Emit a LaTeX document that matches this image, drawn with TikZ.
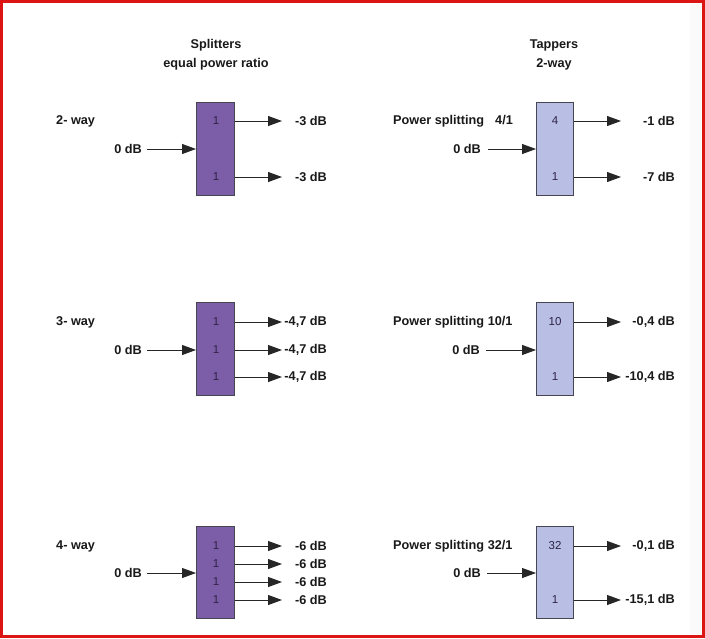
\documentclass[tikz,border=0pt]{standalone}
\usepackage{fontspec}
\setmainfont{Liberation Sans}
\usetikzlibrary{arrows.meta}
\definecolor{splitfill}{RGB}{124,94,168}
\definecolor{tapfill}{RGB}{184,190,228}
\definecolor{frame}{RGB}{220,20,20}
\definecolor{edge}{RGB}{70,70,80}
\definecolor{numtxt}{RGB}{45,35,70}
\tikzset{
  splitbox/.style={draw=edge, line width=0.8pt, fill=splitfill, minimum width=38pt, minimum height=93pt, inner sep=0pt, anchor=north west},
  tapbox/.style={draw=edge, line width=0.8pt, fill=tapfill, minimum width=37pt, minimum height=93pt, inner sep=0pt, anchor=north west},
  lbl/.style={font=\fontsize{12.7}{15}\selectfont\bfseries, inner sep=0pt, text=black!90},
  num/.style={font=\fontsize{11.5}{13}\selectfont, inner sep=0pt, text=numtxt},
  conn/.style={draw=black!85, line width=0.9pt, -{Triangle[length=14pt,width=10pt]}},
}
\begin{document}
\begin{tikzpicture}[x=1pt,y=-1pt]
\useasboundingbox (0,0) rectangle (705,638);
\fill[white] (0,0) rectangle (705,638);
\fill[black!2] (690,4) rectangle (701,634);
\draw[frame, line width=3pt] (1.5,1.5) rectangle (703.5,636.5);

% titles
\node[lbl] (t1) at (216,45) {Splitters};
\node[lbl] (t2) at (216,64) {equal power ratio};
\node[lbl] (t3) at (554,45) {Tappers};
\node[lbl] (t4) at (554,64) {2-way};

% ===== Row 1 =====
\node[splitbox] (s1) at (196,102) {};
\node[num] (s1a) at (216,121) {1};
\node[num] (s1b) at (216,177) {1};
\node[lbl, anchor=west] (w1) at (56,121) {2- way};
\node[lbl, anchor=east] (i1) at (142,149) {0 dB};
\coordinate (i1s) at (147,149);
\draw[conn] (i1s) -- (s1.west |- i1s);
\coordinate (s1o1) at (282,121);
\coordinate (s1o2) at (282,177);
\draw[conn] (s1.east |- s1o1) -- (s1o1);
\draw[conn] (s1.east |- s1o2) -- (s1o2);
\node[lbl, anchor=east] (s1l1) at (327,121) {-3 dB};
\node[lbl, anchor=east] (s1l2) at (327,177) {-3 dB};

\node[tapbox] (p1) at (536,102) {};
\node[num] (p1a) at (555,121) {4};
\node[num] (p1b) at (555,177) {1};
\node[lbl, anchor=west] (q1) at (393,121) {Power splitting\hspace{11pt}4/1};
\node[lbl, anchor=east] (j1) at (481,149) {0 dB};
\coordinate (j1s) at (488,149);
\draw[conn] (j1s) -- (p1.west |- j1s);
\coordinate (p1o1) at (621,121);
\coordinate (p1o2) at (621,177);
\draw[conn] (p1.east |- p1o1) -- (p1o1);
\draw[conn] (p1.east |- p1o2) -- (p1o2);
\node[lbl, anchor=east] (p1l1) at (675,121) {-1 dB};
\node[lbl, anchor=east] (p1l2) at (675,177) {-7 dB};

% ===== Row 2 =====
\node[splitbox] (s2) at (196,302) {};
\node[num] (s2a) at (216,322) {1};
\node[num] (s2b) at (216,350) {1};
\node[num] (s2c) at (216,377) {1};
\node[lbl, anchor=west] (w2) at (56,322) {3- way};
\node[lbl, anchor=east] (i2) at (142,350) {0 dB};
\coordinate (i2s) at (147,350);
\draw[conn] (i2s) -- (s2.west |- i2s);
\coordinate (s2o1) at (282,322);
\coordinate (s2o2) at (282,350);
\coordinate (s2o3) at (282,377);
\draw[conn] (s2.east |- s2o1) -- (s2o1);
\draw[conn] (s2.east |- s2o2) -- (s2o2);
\draw[conn] (s2.east |- s2o3) -- (s2o3);
\node[lbl, anchor=east] (s2l1) at (327,322) {-4,7 dB};
\node[lbl, anchor=east] (s2l2) at (327,350) {-4,7 dB};
\node[lbl, anchor=east] (s2l3) at (327,377) {-4,7 dB};

\node[tapbox] (p2) at (536,302) {};
\node[num] (p2a) at (555,322) {10};
\node[num] (p2b) at (555,377) {1};
\node[lbl, anchor=west] (q2) at (393,322) {Power splitting 10/1};
\node[lbl, anchor=east] (j2) at (480,350) {0 dB};
\coordinate (j2s) at (486,350);
\draw[conn] (j2s) -- (p2.west |- j2s);
\coordinate (p2o1) at (621,322);
\coordinate (p2o2) at (621,377);
\draw[conn] (p2.east |- p2o1) -- (p2o1);
\draw[conn] (p2.east |- p2o2) -- (p2o2);
\node[lbl, anchor=east] (p2l1) at (675,322) {-0,4 dB};
\node[lbl, anchor=east] (p2l2) at (675,377) {-10,4 dB};

% ===== Row 3 =====
\node[splitbox, minimum height=92pt] (s3) at (196,526) {};
\node[num] (s3a) at (216,546) {1};
\node[num] (s3b) at (216,564) {1};
\node[num] (s3c) at (216,582) {1};
\node[num] (s3d) at (216,600) {1};
\node[lbl, anchor=west] (w3) at (56,546) {4- way};
\node[lbl, anchor=east] (i3) at (142,573) {0 dB};
\coordinate (i3s) at (147,573);
\draw[conn] (i3s) -- (s3.west |- i3s);
\coordinate (s3o1) at (282,546);
\coordinate (s3o2) at (282,564);
\coordinate (s3o3) at (282,582);
\coordinate (s3o4) at (282,600);
\draw[conn] (s3.east |- s3o1) -- (s3o1);
\draw[conn] (s3.east |- s3o2) -- (s3o2);
\draw[conn] (s3.east |- s3o3) -- (s3o3);
\draw[conn] (s3.east |- s3o4) -- (s3o4);
\node[lbl, anchor=east] (s3l1) at (327,546) {-6 dB};
\node[lbl, anchor=east] (s3l2) at (327,564) {-6 dB};
\node[lbl, anchor=east] (s3l3) at (327,582) {-6 dB};
\node[lbl, anchor=east] (s3l4) at (327,600) {-6 dB};

\node[tapbox, minimum height=92pt] (p3) at (536,526) {};
\node[num] (p3a) at (555,546) {32};
\node[num] (p3b) at (555,600) {1};
\node[lbl, anchor=west] (q3) at (393,546) {Power splitting 32/1};
\node[lbl, anchor=east] (j3) at (481,573) {0 dB};
\coordinate (j3s) at (487,573);
\draw[conn] (j3s) -- (p3.west |- j3s);
\coordinate (p3o1) at (621,546);
\coordinate (p3o2) at (621,600);
\draw[conn] (p3.east |- p3o1) -- (p3o1);
\draw[conn] (p3.east |- p3o2) -- (p3o2);
\node[lbl, anchor=east] (p3l1) at (675,546) {-0,1 dB};
\node[lbl, anchor=east] (p3l2) at (675,600) {-15,1 dB};
\end{tikzpicture}
\end{document}
